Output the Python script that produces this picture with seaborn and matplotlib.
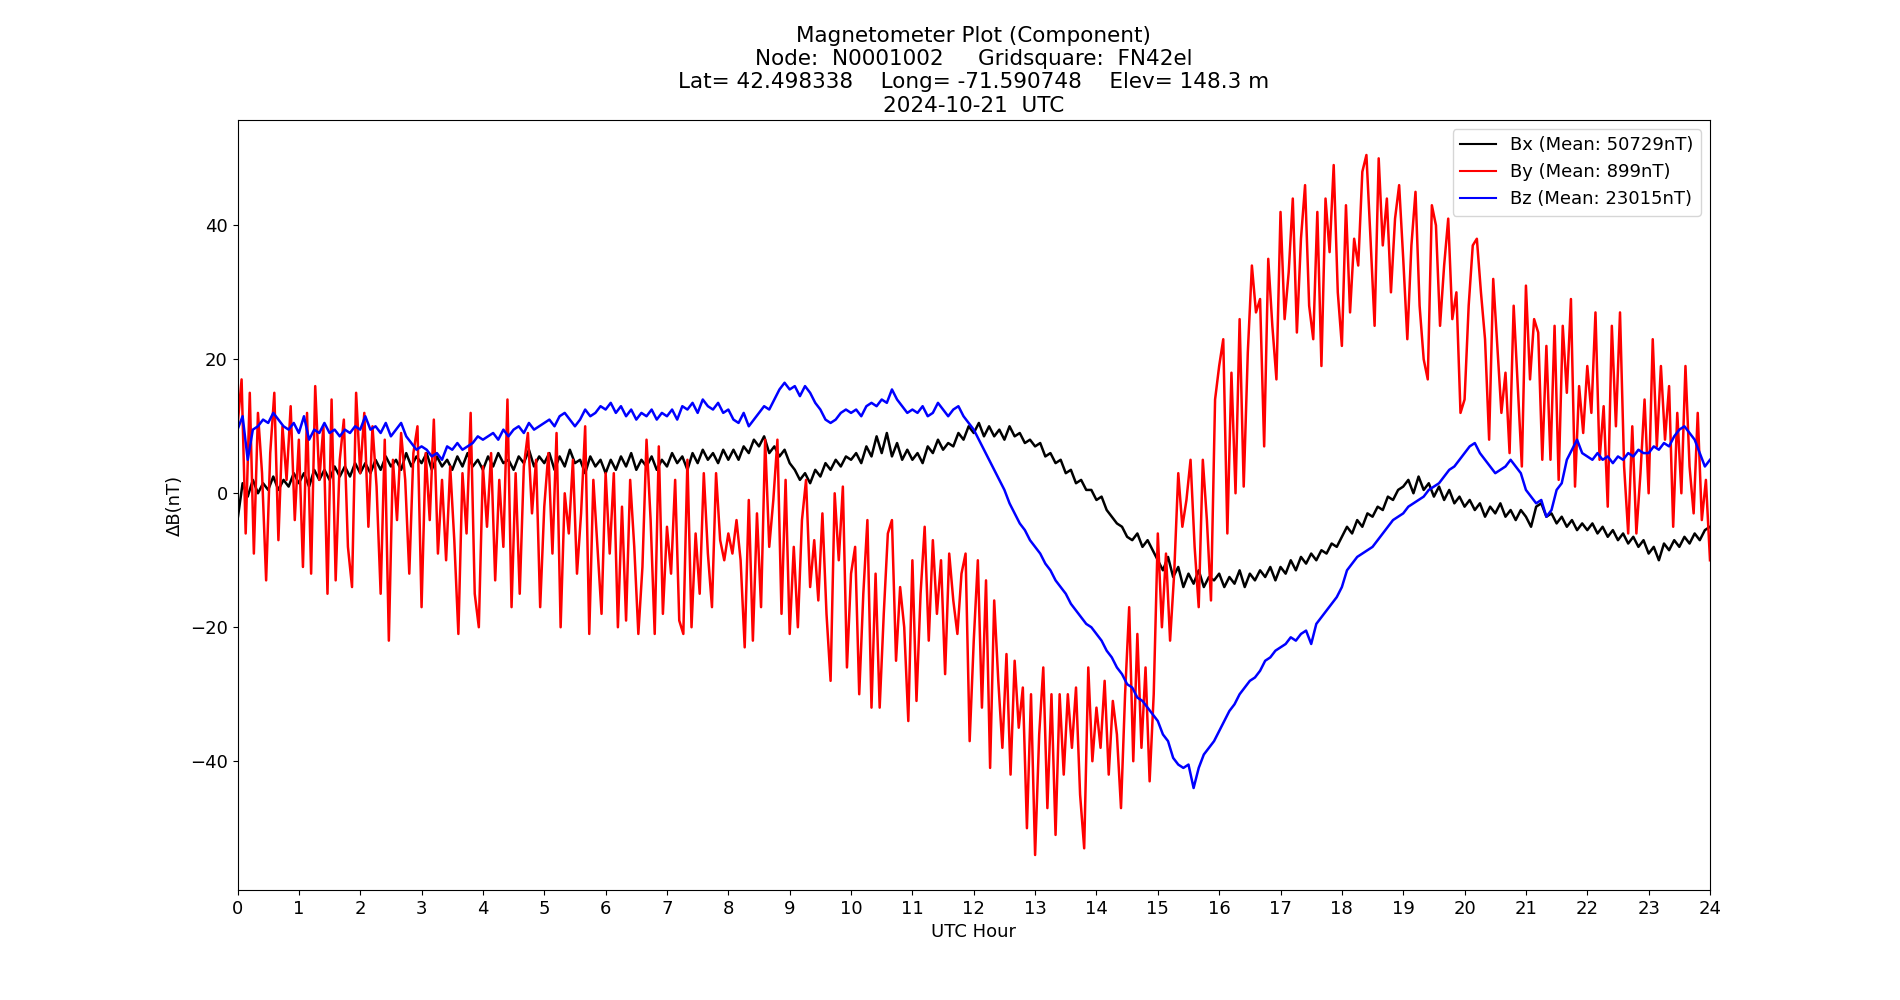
import numpy as np
import matplotlib
matplotlib.use("Agg")
import matplotlib.pyplot as plt
import seaborn as sns

# ---------------- data ----------------
# Bx, Bz sampled every 5 minutes (12 per hour), By every 4 minutes (15 per hour)
bx = [
    -4.0, 1.5, -0.5, 2.0, 0.0, 1.5, 0.5, 2.5, 0.5, 2.0, 1.0, 3.0,
    1.5, 3.0, 1.0, 3.5, 2.0, 3.5, 2.0, 4.0, 2.5, 4.0, 2.5, 4.5,
    3.0, 4.5, 3.0, 5.0, 3.5, 5.5, 4.0, 5.0, 3.5, 6.0, 4.0, 5.5,
    4.5, 6.0, 3.5, 5.5, 4.0, 5.0, 3.5, 5.5, 4.0, 6.0, 4.0, 5.0,
    3.5, 5.5, 4.0, 6.0, 4.5, 5.0, 3.5, 5.5, 4.5, 6.5, 4.0, 5.5,
    4.5, 6.0, 3.5, 5.5, 4.0, 6.5, 4.5, 5.0, 3.0, 5.5, 4.0, 5.0,
    3.0, 5.0, 3.5, 5.5, 4.0, 6.0, 3.5, 5.0, 4.0, 5.5, 3.5, 5.0,
    4.0, 6.0, 4.5, 5.5, 3.5, 6.0, 4.5, 6.5, 5.0, 6.0, 4.5, 6.5,
    5.0, 6.5, 5.0, 7.0, 6.0, 8.0, 7.0, 8.5, 6.0, 7.0, 5.5, 6.5,
    4.5, 3.5, 2.0, 3.0, 1.5, 3.5, 2.5, 4.5, 3.5, 5.0, 4.0, 5.5,
    5.0, 6.0, 4.5, 7.0, 5.5, 8.5, 6.0, 9.0, 5.5, 7.5, 5.0, 6.5,
    5.0, 6.0, 4.5, 7.0, 6.0, 8.0, 6.5, 7.5, 7.0, 9.0, 8.0, 10.0,
    9.0, 10.5, 8.5, 10.0, 8.5, 9.5, 8.0, 10.0, 8.5, 9.0, 7.5, 8.0,
    7.0, 7.5, 5.5, 6.0, 4.5, 5.0, 3.0, 3.5, 1.5, 2.0, 0.5, 0.5,
    -1.0, -0.5, -2.5, -3.5, -4.5, -5.0, -6.5, -7.0, -6.0, -8.0, -7.0, -8.5,
    -10.0, -11.5, -9.5, -12.5, -11.0, -14.0, -12.0, -13.5, -11.5, -14.0, -12.5, -13.0,
    -12.0, -14.0, -12.5, -13.5, -11.5, -14.0, -12.0, -13.0, -11.5, -12.5, -11.0, -13.0,
    -11.0, -12.0, -10.0, -11.5, -9.5, -10.5, -9.0, -10.0, -8.5, -9.0, -7.5, -8.0,
    -6.5, -5.0, -6.0, -4.0, -5.0, -3.0, -3.5, -2.0, -2.5, -0.5, -1.0, 0.5,
    1.0, 2.0, 0.0, 2.5, 0.5, 1.5, -0.5, 1.0, -1.0, 0.5, -1.5, -0.5,
    -2.0, -1.0, -2.5, -1.5, -3.5, -2.0, -3.0, -1.5, -3.5, -2.5, -4.0, -2.5,
    -3.5, -5.0, -2.0, -1.5, -3.5, -3.0, -4.5, -3.5, -5.0, -4.0, -5.5, -4.5,
    -5.5, -4.5, -6.0, -5.0, -6.5, -5.5, -7.0, -6.0, -7.5, -6.5, -8.0, -7.0,
    -9.0, -8.0, -10.0, -7.5, -8.5, -7.0, -8.0, -6.5, -7.5, -6.0, -7.0, -5.5,
    -5.0,
]

bz = [
    9.5, 11.5, 5.0, 9.5, 10.0, 11.0, 10.5, 12.0, 11.0, 10.0, 9.5, 10.5,
    9.0, 11.5, 8.0, 9.5, 9.0, 10.5, 9.0, 9.5, 8.5, 9.5, 9.0, 10.0,
    9.5, 11.5, 9.5, 10.0, 9.0, 10.5, 8.5, 9.5, 10.5, 8.5, 7.5, 6.5,
    7.0, 6.5, 5.5, 6.0, 5.0, 7.0, 6.5, 7.5, 6.5, 7.0, 7.5, 8.5,
    8.0, 8.5, 9.0, 8.0, 9.5, 8.5, 9.5, 10.0, 9.0, 10.5, 9.5, 10.0,
    10.5, 11.0, 10.0, 11.5, 12.0, 11.0, 10.0, 11.0, 12.5, 11.5, 12.0, 13.0,
    12.5, 13.5, 12.0, 13.0, 11.5, 12.5, 11.0, 12.0, 11.5, 12.5, 11.0, 12.0,
    11.5, 12.5, 11.0, 13.0, 12.5, 13.5, 12.0, 14.0, 13.0, 12.5, 13.5, 12.0,
    12.5, 11.0, 10.5, 12.0, 10.0, 11.0, 12.0, 13.0, 12.5, 14.0, 15.5, 16.5,
    15.5, 16.0, 14.5, 16.0, 15.0, 13.5, 12.5, 11.0, 10.5, 11.0, 12.0, 12.5,
    12.0, 12.5, 11.5, 13.0, 13.5, 13.0, 14.0, 13.5, 15.5, 14.0, 13.0, 12.0,
    12.5, 12.0, 13.0, 11.5, 12.0, 13.5, 12.5, 11.5, 12.5, 13.0, 11.5, 10.5,
    9.5, 8.0, 6.5, 5.0, 3.5, 2.0, 0.5, -1.5, -3.0, -4.5, -5.5, -7.0,
    -8.0, -9.0, -10.5, -11.5, -13.0, -14.0, -15.0, -16.5, -17.5, -18.5, -19.5, -20.0,
    -21.0, -22.0, -23.5, -24.5, -26.0, -27.0, -28.5, -29.0, -30.5, -31.0, -32.0, -33.0,
    -34.0, -36.0, -37.0, -39.5, -40.5, -41.0, -40.5, -44.0, -41.0, -39.0, -38.0, -37.0,
    -35.5, -34.0, -32.5, -31.5, -30.0, -29.0, -28.0, -27.5, -26.5, -25.0, -24.5, -23.5,
    -23.0, -22.5, -21.5, -22.0, -21.0, -20.5, -22.5, -19.5, -18.5, -17.5, -16.5, -15.5,
    -14.0, -11.5, -10.5, -9.5, -9.0, -8.5, -8.0, -7.0, -6.0, -5.0, -4.0, -3.5,
    -3.0, -2.0, -1.5, -1.0, -0.5, 0.5, 1.0, 1.5, 2.5, 3.5, 4.0, 5.0,
    6.0, 7.0, 7.5, 6.0, 5.0, 4.0, 3.0, 3.5, 4.0, 5.0, 4.0, 3.0,
    0.5, -0.5, -1.5, -1.0, -3.5, -2.5, 0.5, 1.5, 5.0, 6.5, 8.0, 6.0,
    5.5, 5.0, 6.0, 5.0, 5.5, 4.5, 5.5, 5.0, 6.0, 5.5, 6.5, 6.0,
    6.0, 7.0, 6.5, 7.5, 7.0, 8.5, 9.5, 10.0, 9.0, 8.0, 6.0, 4.0,
    5.0,
]

by = [
    10, 17, -6, 15, -9, 12, 3, -13, 6, 15, -7, 10, 2, 13, -4,
    8, -11, 12, -12, 16, 2, 10, -15, 14, -13, 5, 11, -8, -14, 15,
    3, 12, -5, 10, 1, -15, 8, -22, 5, -4, 9, 2, -12, 6, 10,
    -17, 6, -4, 11, -9, 2, -10, 4, -7, -21, 3, -6, 12, -15, -20,
    4, -5, 6, -13, 2, -8, 14, -17, 3, -15, 4, 9, -3, 5, -17,
    -2, 6, -9, 9, -20, 0, -6, 5, -12, -3, 10, -21, 2, -8, -18,
    3, -9, 3, -20, -2, -19, 2, -8, -21, -11, 8, -4, -21, 7, -18,
    -5, -12, 2, -19, -21, 5, -20, -6, -15, 3, -9, -17, 3, -7, -10,
    -6, -9, -4, -10, -23, -1, -22, -3, -17, 8, -8, -1, 8, -18, 2,
    -21, -8, -20, -4, 2, -14, -7, -16, -3, -18, -28, 0, -10, 1, -26,
    -12, -8, -30, -15, -4, -32, -12, -32, -18, -6, -4, -25, -14, -20, -34,
    -10, -31, -15, -5, -22, -7, -18, -10, -27, -9, -16, -21, -12, -9, -37,
    -22, -10, -32, -13, -41, -16, -28, -38, -24, -42, -25, -35, -29, -50, -30,
    -54, -36, -26, -47, -30, -51, -30, -42, -30, -38, -29, -45, -53, -26, -40,
    -32, -38, -28, -42, -31, -36, -47, -30, -17, -40, -21, -38, -26, -43, -30,
    -6, -20, -9, -22, -12, 3, -5, -1, 5, -8, -17, 5, -4, -16, 14,
    19, 23, -6, 18, 0, 26, 1, 21, 34, 27, 29, 7, 35, 25, 17,
    42, 26, 33, 44, 24, 38, 46, 28, 23, 42, 19, 44, 36, 49, 30,
    22, 43, 27, 38, 34, 48, 50.5, 38, 25, 50, 37, 44, 30, 41, 46,
    35, 23, 37, 45, 28, 20, 17, 43, 40, 25, 34, 41, 26, 30, 12,
    14, 28, 37, 38, 30, 23, 8, 32, 22, 12, 18, 6, 28, 16, 4,
    31, 17, 26, 24, 5, 22, 5, 25, 2, 25, 15, 29, 1, 16, 9,
    19, 12, 27, 5, 13, -2, 25, 10, 27, 4, -6, 10, -6, 3, 14,
    0, 23, 7, 19, 8, 16, -5, 12, 0, 19, 4, -3, 12, -4, 2,
    -10,
]

labels = ["Bx (Mean: 50729nT)", "By (Mean: 899nT)", "Bz (Mean: 23015nT)"]
colors = ["black", "red", "blue"]
hour_ticks = list(range(0, 25))

title_lines = [
    "Magnetometer Plot (Component)",
    "Node:  N0001002     Gridsquare:  FN42el",
    "Lat= 42.498338    Long= -71.590748    Elev= 148.3 m",
    "2024-10-21  UTC",
]

# ---------------- plotting ----------------
plt.rcParams["font.family"] = ["DejaVu Sans"]
fig = plt.figure(figsize=(19, 10), dpi=100)
ax = fig.add_subplot(111)

series = [bx, by, bz]
for vals, lab, col in zip(series, labels, colors):
    n = len(vals)
    t = np.linspace(0, 24, n)
    sns.lineplot(x=t, y=vals, ax=ax, color=col, label=lab, linewidth=1.8,
                 estimator=None, sort=False)

ax.set_xlim(0, 24)
ax.set_xticks(hour_ticks)
ax.tick_params(axis="both", labelsize=13)
ax.set_xlabel("UTC Hour", fontsize=13)
ax.set_ylabel("ΔB(nT)", fontsize=13)
ax.set_title("\n".join(title_lines), fontsize=15.5)
leg = ax.legend(loc="upper right", fontsize=13)
for line in leg.get_lines():
    line.set_linewidth(1.5)

fig.savefig("out.png", dpi=100)
